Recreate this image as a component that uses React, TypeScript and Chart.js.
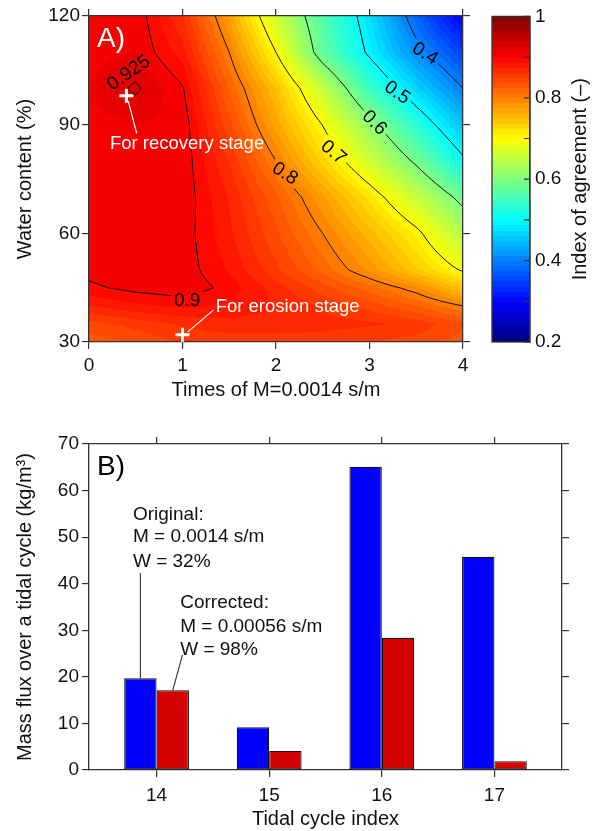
import React, { useEffect, useRef } from 'react';
import { Chart, registerables } from 'chart.js';

Chart.register(...registerables);

const FONT = '"Liberation Sans", Arial, Helvetica, sans-serif';
const AXIS = '#333333';
const TEXT = '#111111';

// ---------------- Panel A: index of agreement field ----------------
const TIMES_M = [0, 0.5, 1, 1.5, 2, 2.5, 3, 3.5, 4];
const WATER_CONTENT = [30, 35, 40, 45, 50, 60, 70, 80, 90, 100, 110, 120];
const IA_W30 = [0.83, 0.84, 0.852, 0.856, 0.856, 0.855, 0.85, 0.845, 0.832];
const IA_W35 = [0.845, 0.855, 0.865, 0.87, 0.87, 0.868, 0.865, 0.858, 0.84];
const IA_W40 = [0.875, 0.885, 0.89, 0.885, 0.875, 0.86, 0.845, 0.825, 0.8];
const IA_W45 = [0.897, 0.905, 0.91, 0.895, 0.869, 0.843, 0.818, 0.79, 0.745];
const IA_W50 = [0.905, 0.91, 0.908, 0.886, 0.853, 0.82, 0.783, 0.74, 0.695];
const IA_W60 = [0.908, 0.911, 0.908, 0.878, 0.84, 0.8, 0.756, 0.709, 0.64];
const IA_W70 = [0.907, 0.911, 0.91, 0.874, 0.828, 0.777, 0.72, 0.656, 0.585];
const IA_W80 = [0.908, 0.911, 0.91, 0.862, 0.8, 0.732, 0.663, 0.592, 0.508];
const IA_W90 = [0.908, 0.912, 0.91, 0.842, 0.77, 0.699, 0.616, 0.532, 0.452];
const IA_W100 = [0.912, 0.928, 0.902, 0.824, 0.749, 0.654, 0.547, 0.468, 0.4];
const IA_W110 = [0.908, 0.913, 0.881, 0.8, 0.7, 0.576, 0.492, 0.413, 0.35];
const IA_W120 = [0.908, 0.911, 0.863, 0.773, 0.66, 0.563, 0.477, 0.378, 0.295];
const IA_GRID = [IA_W30, IA_W35, IA_W40, IA_W45, IA_W50, IA_W60, IA_W70, IA_W80, IA_W90, IA_W100, IA_W110, IA_W120];

const CONTOUR_LEVELS = [0.4, 0.5, 0.6, 0.7, 0.8, 0.9, 0.925];
const CONTOUR_LABELS = ['0.4', '0.5', '0.6', '0.7', '0.8', '0.9', '0.925'];
const LABEL_AT_M = [3.6, 3.3, 3.06, 2.62, 2.1, 1.05, 0.42];
const LABEL_AT_W = [109.8, 99, 90.7, 82.5, 76.7, 41.6, 104.5];
const LABEL_ANGLE = [32, 35, 45, 40, 33, 0, -35];

const STAGE_M = [0.4, 1];
const STAGE_W = [98, 32];
const STAGE_NAMES = ['For recovery stage', 'For erosion stage'];
const STAGE_TEXT_M = [0.224, 1.355];
const STAGE_TEXT_W = [84.7, 39.7];
const STAGE_LINE_FROM_M = [0.42, 1.056];
const STAGE_LINE_FROM_W = [96.5, 32.8];
const STAGE_LINE_TO_M = [0.51, 1.33];
const STAGE_LINE_TO_W = [87.6, 38.8];

const A_X_TICKS = [0, 1, 2, 3, 4];
const A_Y_TICKS = [30, 60, 90, 120];

const CB_MIN = 0.2;
const CB_MAX = 1;
const CB_LEVELS = 64;
const CB_TICKS = [0.2, 0.3, 0.4, 0.5, 0.6, 0.7, 0.8, 0.9, 1];
const CB_LABELED = ['0.2', '0.4', '0.6', '0.8', '1'];

// ---------------- Panel B: mass flux ----------------
const CYCLES = [14, 15, 16, 17];
const ORIGINAL = [19.7, 9.2, 65.1, 45.8];
const CORRECTED = [17.1, 4.1, 28.4, 1.9];
const B_Y_TICKS = [0, 10, 20, 30, 40, 50, 60, 70];
const ORIGINAL_NOTE = ['Original:', 'M = 0.0014 s/m', 'W = 32%'];
const CORRECTED_NOTE = ['Corrected:', 'M = 0.00056 s/m', 'W = 98%'];
const ORIGINAL_NOTE_X = 13.79;
const ORIGINAL_NOTE_Y = [54.8, 50.0, 44.7];
const ORIGINAL_LINE_TOP = 42.3;
const CORRECTED_NOTE_X = 14.21;
const CORRECTED_NOTE_Y = [35.9, 30.7, 25.8];
const CORRECTED_LINE_FROM = [14.23, 24.7];

// ---------------- helpers ----------------
function seg(arr: number[], v: number): [number, number] {
  let i = 0;
  while (i < arr.length - 2 && v > arr[i + 1]) i++;
  const t = (v - arr[i]) / (arr[i + 1] - arr[i]);
  return [i, Math.max(0, Math.min(1, t))];
}

function fieldAt(m: number, w: number) {
  const [i, tx] = seg(TIMES_M, m);
  const [j, ty] = seg(WATER_CONTENT, w);
  const g = IA_GRID;
  return (
    (1 - tx) * (1 - ty) * g[j][i] +
    tx * (1 - ty) * g[j][i + 1] +
    (1 - tx) * ty * g[j + 1][i] +
    tx * ty * g[j + 1][i + 1]
  );
}

function jetIndex(k: number): [number, number, number] {
  const t = (k + 0.5) / CB_LEVELS;
  const c = (x: number) => Math.round(255 * Math.max(0, Math.min(1, x)));
  return [
    c(Math.min(4 * t - 1.5, -4 * t + 4.5)),
    c(Math.min(4 * t - 0.5, -4 * t + 3.5)),
    c(Math.min(4 * t + 0.5, -4 * t + 2.5)),
  ];
}

function jetRGB(v: number): [number, number, number] {
  let k = Math.floor(((v - CB_MIN) / (CB_MAX - CB_MIN)) * CB_LEVELS);
  k = Math.max(0, Math.min(CB_LEVELS - 1, k));
  return jetIndex(k);
}

function fixedTicks(vals: number[]) {
  return (s: any) => {
    s.ticks = vals.map((v) => ({ value: v }));
  };
}

const tickFont = { family: FONT, size: 19 };
const titleFont = { family: FONT, size: 20 };
const gridOpts = { drawOnChartArea: false, drawTicks: true, tickLength: 7, color: AXIS, lineWidth: 1.2 };
const borderOpts = { display: true, color: AXIS, width: 1.3 };

// ---------------- Panel A plugin ----------------
const fieldPlugin = {
  id: 'iaField',
  beforeDraw(chart: any) {
    const { ctx, chartArea: a, scales } = chart;
    const xs = scales.x;
    const ys = scales.y;
    const W = Math.round(a.right - a.left);
    const H = Math.round(a.bottom - a.top);
    const off = document.createElement('canvas');
    off.width = W;
    off.height = H;
    const octx = off.getContext('2d') as CanvasRenderingContext2D;
    const img = octx.createImageData(W, H);
    for (let py = 0; py < H; py++) {
      const w = ys.getValueForPixel(a.top + py + 0.5);
      for (let px = 0; px < W; px++) {
        const m = xs.getValueForPixel(a.left + px + 0.5);
        const [r, g, b] = jetRGB(fieldAt(m, w));
        const o = (py * W + px) * 4;
        img.data[o] = r;
        img.data[o + 1] = g;
        img.data[o + 2] = b;
        img.data[o + 3] = 255;
      }
    }
    octx.putImageData(img, 0, 0);
    ctx.drawImage(off, a.left, a.top);

    // contour lines (marching squares on the field)
    const step = 2;
    const nx = Math.ceil(W / step) + 1;
    const ny = Math.ceil(H / step) + 1;
    const gx: number[] = [];
    const gy: number[] = [];
    for (let i = 0; i < nx; i++) gx.push(Math.min(a.left + i * step, a.right));
    for (let j = 0; j < ny; j++) gy.push(Math.min(a.top + j * step, a.bottom));
    const vals: number[][] = [];
    for (let j = 0; j < ny; j++) {
      const row: number[] = [];
      const w = ys.getValueForPixel(gy[j]);
      for (let i = 0; i < nx; i++) row.push(fieldAt(xs.getValueForPixel(gx[i]), w));
      vals.push(row);
    }
    ctx.save();
    ctx.beginPath();
    ctx.rect(a.left, a.top, W, H);
    ctx.clip();
    ctx.strokeStyle = '#111';
    ctx.lineWidth = 1;
    ctx.beginPath();
    for (const L of CONTOUR_LEVELS) {
      for (let j = 0; j < ny - 1; j++) {
        for (let i = 0; i < nx - 1; i++) {
          const v00 = vals[j][i];
          const v10 = vals[j][i + 1];
          const v11 = vals[j + 1][i + 1];
          const v01 = vals[j + 1][i];
          const cr = (va: number, vb: number, xa: number, ya: number, xb: number, yb: number) => {
            if ((va >= L) === (vb >= L)) return null;
            const t = (L - va) / (vb - va);
            return [xa + (xb - xa) * t, ya + (yb - ya) * t];
          };
          const top = cr(v00, v10, gx[i], gy[j], gx[i + 1], gy[j]);
          const right = cr(v10, v11, gx[i + 1], gy[j], gx[i + 1], gy[j + 1]);
          const bottom = cr(v01, v11, gx[i], gy[j + 1], gx[i + 1], gy[j + 1]);
          const left = cr(v00, v01, gx[i], gy[j], gx[i], gy[j + 1]);
          const pts = [top, right, bottom, left].filter((p) => p) as number[][];
          if (pts.length === 2) {
            ctx.moveTo(pts[0][0], pts[0][1]);
            ctx.lineTo(pts[1][0], pts[1][1]);
          } else if (pts.length === 4) {
            const c = (v00 + v10 + v11 + v01) / 4;
            const pairs = (c >= L) === (v00 >= L)
              ? [[top, right], [bottom, left]]
              : [[top, left], [right, bottom]];
            for (const [p, q] of pairs as any) {
              ctx.moveTo(p[0], p[1]);
              ctx.lineTo(q[0], q[1]);
            }
          }
        }
      }
    }
    ctx.stroke();

    // contour labels with gaps in the lines
    ctx.font = `19px ${FONT}`;
    for (let k = 0; k < CONTOUR_LABELS.length; k++) {
      const px = xs.getPixelForValue(LABEL_AT_M[k]);
      const py = ys.getPixelForValue(LABEL_AT_W[k]);
      const ang = (LABEL_ANGLE[k] * Math.PI) / 180;
      const tw = ctx.measureText(CONTOUR_LABELS[k]).width;
      ctx.save();
      ctx.translate(px, py);
      ctx.rotate(ang);
      ctx.beginPath();
      ctx.rect(-tw / 2 - 3, -9, tw + 6, 18);
      ctx.rotate(-ang);
      ctx.translate(-px, -py);
      ctx.clip();
      ctx.drawImage(off, a.left, a.top);
      ctx.restore();
      ctx.save();
      ctx.translate(px, py);
      ctx.rotate(ang);
      ctx.fillStyle = '#000';
      ctx.textAlign = 'center';
      ctx.textBaseline = 'middle';
      ctx.fillText(CONTOUR_LABELS[k], 0, 1);
      ctx.restore();
    }
    ctx.restore();
  },
  afterDatasetsDraw(chart: any) {
    const { ctx, chartArea: a, scales } = chart;
    const xs = scales.x;
    const ys = scales.y;
    ctx.save();
    ctx.fillStyle = '#fff';
    ctx.strokeStyle = '#fff';
    ctx.font = `28px ${FONT}`;
    ctx.textBaseline = 'alphabetic';
    ctx.textAlign = 'left';
    ctx.fillText('A)', a.left + 8, a.top + 31);
    ctx.font = `18.5px ${FONT}`;
    ctx.textBaseline = 'middle';
    ctx.lineWidth = 1.2;
    for (let k = 0; k < STAGE_NAMES.length; k++) {
      ctx.fillText(STAGE_NAMES[k], xs.getPixelForValue(STAGE_TEXT_M[k]), ys.getPixelForValue(STAGE_TEXT_W[k]));
      ctx.beginPath();
      ctx.moveTo(xs.getPixelForValue(STAGE_LINE_FROM_M[k]), ys.getPixelForValue(STAGE_LINE_FROM_W[k]));
      ctx.lineTo(xs.getPixelForValue(STAGE_LINE_TO_M[k]), ys.getPixelForValue(STAGE_LINE_TO_W[k]));
      ctx.stroke();
    }
    ctx.restore();
  },
};

// ---------------- colorbar plugin ----------------
const colorbarPlugin = {
  id: 'colorbar',
  beforeDraw(chart: any) {
    const { ctx, chartArea: a, scales } = chart;
    const ys = scales.y;
    for (let k = 0; k < CB_LEVELS; k++) {
      const v0 = CB_MIN + ((CB_MAX - CB_MIN) * k) / CB_LEVELS;
      const v1 = CB_MIN + ((CB_MAX - CB_MIN) * (k + 1)) / CB_LEVELS;
      const y0 = ys.getPixelForValue(v1);
      const y1 = ys.getPixelForValue(v0);
      const [r, g, b] = jetIndex(k);
      ctx.fillStyle = `rgb(${r},${g},${b})`;
      ctx.fillRect(a.left, Math.floor(y0), a.right - a.left, Math.ceil(y1) - Math.floor(y0));
    }
  },
  afterDraw(chart: any) {
    const { ctx, chartArea: a, scales } = chart;
    const ys = scales.y;
    ctx.save();
    ctx.strokeStyle = AXIS;
    ctx.lineWidth = 1.3;
    ctx.strokeRect(a.left, a.top, a.right - a.left, a.bottom - a.top);
    ctx.lineWidth = 1.2;
    ctx.beginPath();
    for (const v of CB_TICKS) {
      const y = ys.getPixelForValue(v);
      ctx.moveTo(a.right - 6, y);
      ctx.lineTo(a.right, y);
    }
    ctx.stroke();
    ctx.translate(100, (a.top + a.bottom) / 2);
    ctx.rotate(-Math.PI / 2);
    ctx.fillStyle = TEXT;
    ctx.font = `20px ${FONT}`;
    ctx.textAlign = 'center';
    ctx.textBaseline = 'middle';
    ctx.fillText('Index of agreement (\u2013)', 0, 0);
    ctx.restore();
  },
};

// ---------------- Panel B plugin ----------------
const notesPlugin = {
  id: 'notes',
  afterDatasetsDraw(chart: any) {
    const { ctx, chartArea: a, scales } = chart;
    const xs = scales.x;
    const ys = scales.y;
    ctx.save();
    ctx.fillStyle = '#000';
    ctx.font = `28px ${FONT}`;
    ctx.textAlign = 'left';
    ctx.textBaseline = 'alphabetic';
    ctx.fillText('B)', a.left + 8, a.top + 31);
    ctx.font = `19px ${FONT}`;
    ctx.fillStyle = TEXT;
    ctx.textBaseline = 'middle';
    ORIGINAL_NOTE.forEach((t, i) => ctx.fillText(t, xs.getPixelForValue(ORIGINAL_NOTE_X), ys.getPixelForValue(ORIGINAL_NOTE_Y[i])));
    CORRECTED_NOTE.forEach((t, i) => ctx.fillText(t, xs.getPixelForValue(CORRECTED_NOTE_X), ys.getPixelForValue(CORRECTED_NOTE_Y[i])));
    const blue = chart.getDatasetMeta(0).data[0];
    const red = chart.getDatasetMeta(1).data[0];
    ctx.strokeStyle = '#333';
    ctx.lineWidth = 1.1;
    ctx.beginPath();
    ctx.moveTo(blue.x, ys.getPixelForValue(ORIGINAL_LINE_TOP));
    ctx.lineTo(blue.x, blue.y);
    ctx.moveTo(xs.getPixelForValue(CORRECTED_LINE_FROM[0]), ys.getPixelForValue(CORRECTED_LINE_FROM[1]));
    ctx.lineTo(red.x, red.y);
    ctx.stroke();
    ctx.restore();
  },
};

const common = {
  responsive: false,
  animation: false as const,
  devicePixelRatio: 1,
  events: [] as any[],
  layout: { padding: 0 },
  plugins: { legend: { display: false }, tooltip: { enabled: false } },
};

export default function App() {
  const aRef = useRef<HTMLCanvasElement>(null);
  const cbRef = useRef<HTMLCanvasElement>(null);
  const bRef = useRef<HTMLCanvasElement>(null);

  useEffect(() => {
    const chartA = new Chart(aRef.current as HTMLCanvasElement, {
      type: 'scatter',
      data: {
        datasets: [
          {
            data: STAGE_M.map((m, i) => ({ x: m, y: STAGE_W[i] })),
            pointStyle: 'cross',
            radius: 7,
            borderColor: '#ffffff',
            backgroundColor: '#ffffff',
            borderWidth: 3,
          },
        ],
      },
      options: {
        ...common,
        scales: {
          x: {
            type: 'linear', position: 'bottom', min: 0, max: 4,
            afterBuildTicks: fixedTicks(A_X_TICKS),
            afterFit: (s: any) => { s.height = 63; },
            grid: gridOpts, border: borderOpts,
            ticks: { font: tickFont, color: TEXT, padding: 5, maxRotation: 0, callback: (v: any) => String(v) },
            title: { display: true, text: 'Times of M=0.0014 s/m', font: titleFont, color: TEXT, padding: { top: 0, bottom: 3 } },
          },
          x2: {
            type: 'linear', position: 'top', min: 0, max: 4,
            afterBuildTicks: fixedTicks(A_X_TICKS),
            afterFit: (s: any) => { s.height = 16; },
            grid: gridOpts, border: borderOpts,
            ticks: { display: false },
          },
          y: {
            type: 'linear', position: 'left', min: 30, max: 120,
            afterBuildTicks: fixedTicks(A_Y_TICKS),
            afterFit: (s: any) => { s.width = 89; },
            grid: gridOpts, border: borderOpts,
            ticks: { font: tickFont, color: TEXT, padding: 2, callback: (v: any) => String(v) },
            title: { display: true, text: 'Water content (%)', font: titleFont, color: TEXT, padding: { top: 13, bottom: 0 } },
          },
          y2: {
            type: 'linear', position: 'right', min: 30, max: 120,
            afterBuildTicks: fixedTicks(A_Y_TICKS),
            afterFit: (s: any) => { s.width = 139; },
            grid: gridOpts, border: borderOpts,
            ticks: { display: false },
          },
        },
      } as any,
      plugins: [fieldPlugin],
    });

    const chartCb = new Chart(cbRef.current as HTMLCanvasElement, {
      type: 'scatter',
      data: { datasets: [{ data: [] }] },
      options: {
        ...common,
        layout: { padding: { left: 12, top: 16, bottom: 63, right: 0 } },
        scales: {
          x: { display: false, min: 0, max: 1 },
          y: {
            type: 'linear', position: 'right', min: CB_MIN, max: CB_MAX,
            afterBuildTicks: fixedTicks(CB_TICKS),
            afterFit: (s: any) => { s.width = 72; },
            grid: { drawOnChartArea: false, drawTicks: false },
            border: borderOpts,
            ticks: {
              font: tickFont, color: TEXT, padding: 5,
              callback: (v: any) => {
                const s = Math.abs(v - 1) < 1e-9 ? '1' : Number(v).toFixed(1);
                return CB_LABELED.includes(s) ? s : '';
              },
            },
          },
        },
      } as any,
      plugins: [colorbarPlugin],
    });

    const chartB = new Chart(bRef.current as HTMLCanvasElement, {
      type: 'bar',
      data: {
        datasets: [
          {
            data: CYCLES.map((c, i) => ({ x: c, y: ORIGINAL[i] })),
            backgroundColor: '#0000ff',
            borderColor: '#111111',
            borderWidth: 1.2,
            borderSkipped: false,
            categoryPercentage: 0.575,
            barPercentage: 1,
          },
          {
            data: CYCLES.map((c, i) => ({ x: c, y: CORRECTED[i] })),
            backgroundColor: '#d40000',
            borderColor: '#111111',
            borderWidth: 1.2,
            borderSkipped: false,
            categoryPercentage: 0.575,
            barPercentage: 1,
          },
        ],
      },
      options: {
        ...common,
        scales: {
          x: {
            type: 'linear', position: 'bottom', min: 13.4, max: 17.6, offset: false,
            afterBuildTicks: fixedTicks(CYCLES),
            afterFit: (s: any) => { s.height = 61; },
            grid: { ...gridOpts, offset: false }, border: borderOpts,
            ticks: { font: tickFont, color: TEXT, padding: 7, maxRotation: 0, callback: (v: any) => String(v) },
            title: { display: true, text: 'Tidal cycle index', font: titleFont, color: TEXT, padding: { top: 0, bottom: 0 } },
          },
          x2: {
            type: 'linear', position: 'top', min: 13.4, max: 17.6, offset: false,
            afterBuildTicks: fixedTicks(CYCLES),
            afterFit: (s: any) => { s.height = 39; },
            grid: { ...gridOpts, offset: false }, border: borderOpts,
            ticks: { display: false },
          },
          y: {
            type: 'linear', position: 'left', min: 0, max: 70,
            afterBuildTicks: fixedTicks(B_Y_TICKS),
            afterFit: (s: any) => { s.width = 89; },
            grid: gridOpts, border: borderOpts,
            ticks: { font: tickFont, color: TEXT, padding: 3, callback: (v: any) => String(v) },
            title: { display: true, text: 'Mass flux over a tidal cycle (kg/m\u00b3)', font: titleFont, color: TEXT, padding: { top: 13, bottom: 0 } },
          },
          y2: {
            type: 'linear', position: 'right', min: 0, max: 70,
            afterBuildTicks: fixedTicks(B_Y_TICKS),
            afterFit: (s: any) => { s.width = 40; },
            grid: gridOpts, border: borderOpts,
            ticks: { display: false },
          },
        },
      } as any,
      plugins: [notesPlugin],
    });

    return () => {
      chartA.destroy();
      chartCb.destroy();
      chartB.destroy();
    };
  }, []);

  return (
    <div style={{ position: 'fixed', left: 0, top: 0, width: 602, height: 831, background: '#ffffff' }}>
      <canvas ref={aRef} width={602} height={405} style={{ position: 'absolute', left: 0, top: 0, width: 602, height: 405 }} />
      <canvas ref={cbRef} width={122} height={405} style={{ position: 'absolute', left: 480, top: 0, width: 122, height: 405 }} />
      <canvas ref={bRef} width={602} height={426} style={{ position: 'absolute', left: 0, top: 405, width: 602, height: 426 }} />
    </div>
  );
}
